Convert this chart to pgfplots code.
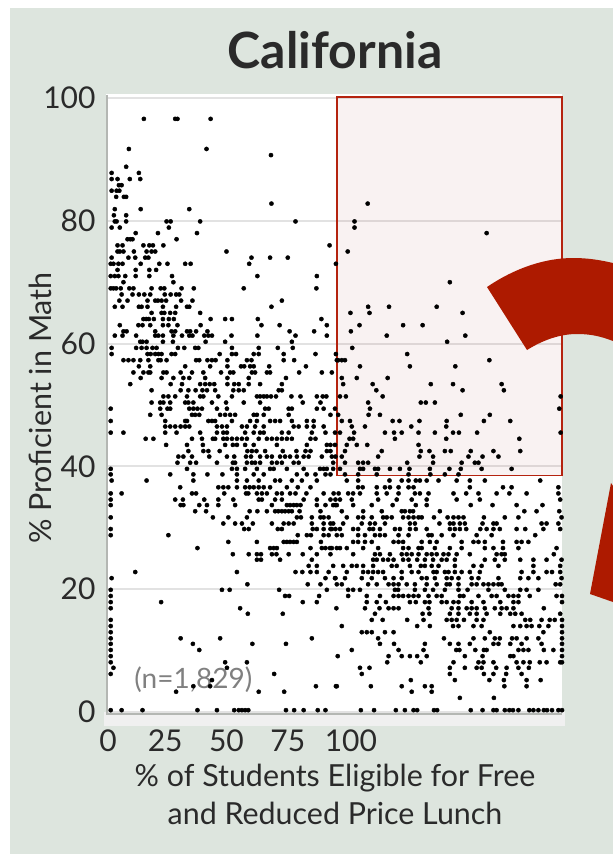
\documentclass[border=0pt]{standalone}
\usepackage{pgfplots}
\pgfplotsset{compat=1.18}
\usepackage{fontspec}
\setmainfont{Lato}
\definecolor{bgc}{HTML}{DDE5DE}
\definecolor{txt}{HTML}{2A2A2A}
\definecolor{arrowred}{HTML}{AD1A00}
\definecolor{boxred}{HTML}{B5230F}
\definecolor{gridc}{HTML}{E2E2E2}
\definecolor{axisc}{HTML}{B4B7B3}
\begin{document}
\begin{tikzpicture}[x=1pt,y=1pt]
\clip (0,0) rectangle (613,-854);
\fill[white] (0,0) rectangle (613,-854);
\fill[bgc] (10,-8) rectangle (613,-854);
\fill[white] (106,-94) rectangle (562,-712);
\fill[black!6] (104,-712) rectangle (565,-726);
\begin{axis}[
  at={(108pt,-712pt)},anchor=south west,
  scale only axis,width=454pt,height=614pt,
  xmin=0,xmax=100,ymin=0,ymax=100,
  clip=false,
  axis line style={draw=none},
  xtick={0,12.6,26.1,39.6,53.5},xticklabels={0,25,50,75,100},
  ytick={0,20,40,60,80,100},
  major tick length=0pt,
  ymajorgrids,grid style={gridc,line width=2pt},
  /pgf/number format/assume math mode=true,
  tick label style={font=\fontsize{30}{34}\selectfont,text=txt},
  xticklabel style={yshift=-14pt},
  yticklabel style={xshift=-9pt},
  xlabel={\% of Students Eligible for Free\\and Reduced Price Lunch},
  xlabel style={at={(axis description cs:0.5,-0.135)},anchor=center,align=center,
     font=\fontsize{30.4}{38}\selectfont,text=txt},
  ylabel={\% Proficient in Math},
  ylabel style={at={(axis description cs:-0.15,0.495)},anchor=center,rotate=0,
     font=\fontsize{30.5}{34}\selectfont,text=txt},
  title={\textbf{California}},
  title style={at={(axis description cs:0.5,1.068)},anchor=center,
     font=\fontsize{50}{56}\selectfont,text=txt},
]
\draw[axisc,line width=2.5pt] (axis cs:-0.25,100.5) -- (axis cs:-0.25,-0.3) -- (axis cs:100,-0.3);
\fill[red!60!black,opacity=0.05] (axis cs:50.44,38.5) rectangle (axis cs:100,100);
\draw[boxred,line width=1.6pt] (axis cs:50.44,38.5) rectangle (axis cs:100,100.2);
\node[text=black!50,font=\fontsize{28}{32}\selectfont] at (axis cs:18.8,5.2) {(n=1,829)};
\addplot[only marks,mark=*,mark size=2.1pt,black] table[row sep=\\]{x y\\
7.9 96.6\\14.8 96.6\\15.3 96.6\\22.6 96.6\\
4.6 91.7\\21.7 91.7\\35.9 90.7\\4.0 88.8\\0.8 87.8\\6.8 87.8\\
.8 86.8\\2.1 86.8\\4.8 86.8\\7.1 86.8\\2.4 85.8\\3.0 85.8\\.8 84.9\\1.9 84.9\\2.5 84.9\\
1.8 83.9\\3.5 83.9\\4.0 83.9\\36.0 82.8\\57.2 82.8\\1.5 81.9\\7.2 81.9\\17.9 81.9\\1.3 80.9\\4.0 80.9\\
1.5 79.9\\1.9 79.9\\4 79.9\\12.9 79.9\\13.8 79.9\\20.3 79.9\\41.3 79.9\\54.3 79.9\\
.8 78.9\\2.6 78.9\\13.4 78.9\\54.3 78.9\\6.1 78\\11 78\\19.6 78\\83.4 78\\
4.3 77\\4.9 77\\5.4 77\\15.1 77\\
2.1 76\\3.2 76\\7.8 76\\9.1 76\\9.9 76\\12.2 76\\48.8 76\\
2.1 75\\2.6 75\\3.4 75\\5.7 75\\8.5 75\\9.6 75\\10.4 75\\26.1 75\\52.8 75\\
.8 74\\4.5 74\\6 74\\8.2 74\\8.9 74\\31.6 74\\35.7 74\\39.6 74\\
.6 73\\1.2 73\\2.3 73\\3.2 73\\7.2 73\\11.3 73\\13.1 73\\17 73\\18.2 73\\31.1 73\\50.2 73\\
2.1 72\\6.1 72\\9.1 72\\10.6 72\\
.6 71\\1.5 71\\2.3 71\\3.8 71\\6.1 71\\9.1 71\\14.1 71\\32.9 71\\46 71\\
3.4 70\\14.4 70\\75.3 70\\
.6 69\\1.2 69\\1.8 69\\2.8 69\\4.7 69\\5.6 69\\9.6 69\\11.6 69\\12.4 69\\16.2 69\\18.9 69\\29.9 69\\45.9 69\\
3 68\\5.4 68\\6.8 68\\8 68\\9.3 68\\12.5 68\\13.8 68\\15 68\\15.7 68\\
2.5 67\\4.3 67\\8.7 67\\10.4 67\\11 67\\11.8 67\\12.8 67\\16.1 67\\18.6 67\\38.3 67\\
1.5 66\\3.2 66\\6.8 66\\7.4 66\\8.7 66\\12.1 66\\15 66\\17.4 66\\17.9 66\\36 66\\57.3 66\\61.9 66\\72.4 66\\
9.6 65\\11.8 65\\12.4 65\\13.7 65\\14.8 65\\20.3 65\\53.4 65\\57.6 65\\78.1 65\\
7.8 64\\8.4 64\\9 64\\10.1 64\\12.1 64\\13.4 64\\14.5 64\\22.6 64\\25.8 64\\27.3 64\\33 64\\47 64\\
2.6 63\\6.7 63\\7.6 63\\9.3 63\\12.1 63\\13.3 63\\15.3 63\\20.4 63\\33.8 63\\37.8 63\\48.2 63\\55.4 63\\65 63\\69.3 63\\
3.4 62\\4.1 62\\10.4 62\\14 62\\14.8 62\\17.4 62\\18.1 62\\19.4 62\\21.9 62\\40 62\\45.4 62\\53.5 62\\
1.5 61.3\\3.2 61.3\\6.2 61.3\\10.4 61.3\\11.1 61.3\\12.1 61.3\\14.4 61.3\\16.3 61.3\\17.9 61.3\\18.6 61.3\\21.2 61.3\\22.1 61.3\\22.9 61.3\\27.2 61.3\\32.9 61.3\\41.3 61.3\\48.2 61.3\\61.4 61.3\\78.7 61.3\\
7.1 60.3\\7.6 60.3\\8.5 60.3\\12.1 60.3\\14.3 60.3\\21.5 60.3\\25.8 60.3\\40.5 60.3\\74.7 60.3\\
.8 59.3\\6.2 59.3\\7.4 59.3\\8.5 59.3\\9.8 59.3\\10.7 59.3\\15.4 59.3\\16.8 59.3\\19.2 59.3\\19.9 59.3\\27.3 59.3\\33.2 59.3\\37.4 59.3\\40.7 59.3\\53.8 59.3\\
.8 58.3\\8.7 58.3\\9.4 58.3\\10.4 58.3\\11.1 58.3\\11.8 58.3\\14 58.3\\14.8 58.3\\24.6 58.3\\27.3 58.3\\28.2 58.3\\32.1 58.3\\33.2 58.3\\38.7 58.3\\45.7 58.3\\50.2 58.3\\65.9 58.3\\
3.4 57.3\\4.5 57.3\\5.6 57.3\\7.1 57.3\\8.9 57.3\\11.1 57.3\\11.6 57.3\\12.9 57.3\\19.4 57.3\\20.1 57.3\\21.9 57.3\\22.9 57.3\\23.7 57.3\\26.3 57.3\\30.6 57.3\\31.6 57.3\\38.7 57.3\\41 57.3\\50.4 57.3\\50.7 57.3\\51.5 57.3\\52.2 57.3\\84 57.3\\
6.8 56.3\\9.3 56.3\\17 56.3\\22.5 56.3\\26.3 56.3\\29.3 56.3\\30 56.3\\31.3 56.3\\32.1 56.3\\35.5 56.3\\43.6 56.3\\55.5 56.3\\66.5 56.3\\76.5 56.3\\
5.6 55.3\\7.8 55.3\\8.9 55.3\\9.3 55.3\\12.2 55.3\\12.9 55.3\\16 55.3\\18.5 55.3\\21 55.3\\24.9 55.3\\26.9 55.3\\27.6 55.3\\31.7 55.3\\32.4 55.3\\35 55.3\\35.7 55.3\\42.1 55.3\\47.1 55.3\\49.3 55.3\\
7.2 54.4\\11.8 54.4\\14.4 54.4\\16.6 54.4\\17.9 54.4\\21.4 54.4\\26.3 54.4\\31 54.4\\39.2 54.4\\51.5 54.4\\54.8 54.4\\61.6 54.4\\
4.9 53.4\\13.8 53.4\\16.3 53.4\\20.3 53.4\\21.4 53.4\\22.4 53.4\\23.4 53.4\\26.3 53.4\\27.8 53.4\\28.8 53.4\\31 53.4\\33.5 53.4\\38.3 53.4\\51.8 53.4\\58.3 53.4\\71.1 53.4\\76 53.4\\86.7 53.4\\
9.6 52.4\\16 52.4\\17.7 52.4\\19.3 52.4\\20.8 52.4\\21.8 52.4\\23.6 52.4\\27.6 52.4\\28.8 52.4\\29.9 52.4\\37.6 52.4\\38.3 52.4\\59.1 52.4\\78.1 52.4\\87.2 52.4\\
12.2 51.4\\13.3 51.4\\14.8 51.4\\17.4 51.4\\20.3 51.4\\21 51.4\\24.3 51.4\\27.3 51.4\\32.8 51.4\\33.5 51.4\\34.3 51.4\\35 51.4\\35.9 51.4\\37 51.4\\40.4 51.4\\42.4 51.4\\46 51.4\\47.3 51.4\\48.1 51.4\\51.1 51.4\\52.4 51.4\\60.5 51.4\\99.7 51.4\\
9.6 50.4\\11.5 50.4\\12.2 50.4\\13.7 50.4\\17 50.4\\17.7 50.4\\18.8 50.4\\22.9 50.4\\26 50.4\\29.9 50.4\\33.5 50.4\\42.9 50.4\\46.8 50.4\\57.3 50.4\\68.9 50.4\\70 50.4\\72 50.4\\
.6 49.4\\11.5 49.4\\13.1 49.4\\13.7 49.4\\17.9 49.4\\18.8 49.4\\19.7 49.4\\20.7 49.4\\24 49.4\\26.2 49.4\\34.6 49.4\\35.4 49.4\\39.8 49.4\\40.5 49.4\\46 49.4\\47.5 49.4\\50 49.4\\57.7 49.4\\99.4 49.4\\
9.3 48.4\\11.8 48.4\\18.5 48.4\\19.2 48.4\\20.1 48.4\\24.7 48.4\\25.8 48.4\\26.9 48.4\\28 48.4\\32.1 48.4\\32.8 48.4\\34.3 48.4\\39.8 48.4\\49 48.4\\50.7 48.4\\57.4 48.4\\59.9 48.4\\77.7 48.4\\84.1 48.4\\
.6 47.4\\12.6 47.4\\17 47.4\\17.4 47.4\\22.1 47.4\\22.9 47.4\\23.6 47.4\\27.3 47.4\\31.3 47.4\\32.8 47.4\\35.7 47.4\\36.8 47.4\\37.9 47.4\\40.5 47.4\\43.8 47.4\\45.3 47.4\\51.5 47.4\\53.3 47.4\\62.7 47.4\\64.2 47.4\\68.6 47.4\\74.6 47.4\\82.8 47.4\\88.6 47.4\\
12.6 46.5\\13.7 46.5\\14.8 46.5\\16 46.5\\17 46.5\\17.9 46.5\\24 46.5\\25.1 46.5\\26.2 46.5\\29.5 46.5\\30.6 46.5\\32.4 46.5\\34.3 46.5\\40.9 46.5\\42 46.5\\43.8 46.5\\45.3 46.5\\47.5 46.5\\53.7 46.5\\56.6 46.5\\66.8 46.5\\74.5 46.5\\
.6 45.5\\3.4 45.5\\12.6 45.5\\15.1 45.5\\20.3 45.5\\24 45.5\\25.4 45.5\\26.2 45.5\\30.2 45.5\\32.1 45.5\\33.5 45.5\\34.3 45.5\\38.3 45.5\\39.8 45.5\\44.9 45.5\\47.9 45.5\\50 45.5\\51.1 45.5\\54.2 45.5\\61 45.5\\63 45.5\\64.7 45.5\\68.4 45.5\\72 45.5\\76 45.5\\77.3 45.5\\81.3 45.5\\99.7 45.5\\
8.3 44.5\\10 44.5\\18.5 44.5\\20.7 44.5\\23.1 44.5\\23.6 44.5\\25.4 44.5\\26.2 44.5\\27.3 44.5\\28.4 44.5\\29.5 44.5\\30.6 44.5\\33.2 44.5\\35 44.5\\36.1 44.5\\37.2 44.5\\38.3 44.5\\39.4 44.5\\40.5 44.5\\44.6 44.5\\45.7 44.5\\53.2 44.5\\54 44.5\\63.2 44.5\\74.5 44.5\\90.6 44.5\\
12.8 43.5\\17.4 43.5\\20.9 43.5\\25.8 43.5\\27.5 43.5\\28.4 43.5\\30.2 43.5\\32.1 43.5\\37.2 43.5\\43.8 43.5\\48.2 43.5\\49 43.5\\50 43.5\\52.6 43.5\\54.8 43.5\\57.1 43.5\\68.4 43.5\\
17.7 42.5\\21 42.5\\22.1 42.5\\24.6 42.5\\30.7 42.5\\31.7 42.5\\32.7 42.5\\34.6 42.5\\38.5 42.5\\41.5 42.5\\43.5 42.5\\44.6 42.5\\48.2 42.5\\49 42.5\\52.2 42.5\\60.3 42.5\\68.9 42.5\\70.8 42.5\\74.2 42.5\\75.5 42.5\\79.9 42.5\\84.9 42.5\\90.8 42.5\\
15.5 41.6\\16.6 41.6\\18.5 41.6\\22.3 41.6\\26.2 41.6\\27.8 41.6\\30.4 41.6\\31.5 41.6\\33.5 41.6\\35 41.6\\36.1 41.6\\37.9 41.6\\39 41.6\\40.1 41.6\\41.6 41.6\\43.1 41.6\\44.2 41.6\\47.1 41.6\\50.1 41.6\\49.3 41.6\\51.5 41.6\\59.5 41.6\\68.6 41.6\\71.6 41.6\\79.4 41.6\\82.5 41.6\\86 41.6\\
15.3 40.6\\18.1 40.6\\19.4 40.6\\24 40.6\\27.5 40.6\\28 40.6\\30.6 40.6\\31.7 40.6\\32.4 40.6\\33.5 40.6\\36.1 40.6\\37.2 40.6\\38.3 40.6\\40.9 40.6\\42 40.6\\49.6 40.6\\52.2 40.6\\55.1 40.6\\56.2 40.6\\57.3 40.6\\65.9 40.6\\71.6 40.6\\77.9 40.6\\80.8 40.6\\81.6 40.6\\
.6 39.6\\17.4 39.6\\27.3 39.6\\28.4 39.6\\30.2 39.6\\32.8 39.6\\35.7 39.6\\36.5 39.6\\39.4 39.6\\43.1 39.6\\46.7 39.6\\47.5 39.6\\48.2 39.6\\49.6 39.6\\51.1 39.6\\55.5 39.6\\56.2 39.6\\58.8 39.6\\59.5 39.6\\62.1 39.6\\64.3 39.6\\66.4 39.6\\70.9 39.6\\75.2 39.6\\77.7 39.6\\82.3 39.6\\88.9 39.6\\
.6 38.7\\13.7 38.7\\18.8 38.7\\21.9 38.7\\25.2 38.7\\28.4 38.7\\32.1 38.7\\34.3 38.7\\41.6 38.7\\43.8 38.7\\45.7 38.7\\47.9 38.7\\49 38.7\\52.2 38.7\\55.1 38.7\\59.2 38.7\\66.2 38.7\\71 38.7\\74.2 38.7\\77.2 38.7\\
.8 37.7\\8.5 37.7\\18.8 37.7\\28.4 37.7\\30.6 37.7\\33.2 37.7\\36.8 37.7\\37.9 37.7\\40.5 37.7\\42.7 37.7\\46 37.7\\52.6 37.7\\55.1 37.7\\62 37.7\\64.7 37.7\\66.2 37.7\\67.8 37.7\\68.7 37.7\\70.2 37.7\\72.8 37.7\\76.8 37.7\\79.7 37.7\\83 37.7\\95.2 37.7\\
15.9 36.6\\24.3 36.6\\25.4 36.6\\26.5 36.6\\28.4 36.6\\30.2 36.6\\31.2 36.6\\32.1 36.6\\33.2 36.6\\34.3 36.6\\35.7 36.6\\39.4 36.6\\41.8 36.6\\44.6 36.6\\55.1 36.6\\56.1 36.6\\59.2 36.6\\61 36.6\\62.1 36.6\\64 36.6\\66.2 36.6\\67.3 36.6\\79.7 36.6\\87 36.6\\88.9 36.6\\99.2 36.6\\
.6 35.6\\3 35.6\\18.5 35.6\\19.4 35.6\\25.6 35.6\\30.4 35.6\\30.9 35.6\\32.8 35.6\\33.9 35.6\\35 35.6\\37.2 35.6\\38.3 35.6\\40.1 35.6\\41.3 35.6\\43.7 35.6\\47.5 35.6\\49.7 35.6\\50.8 35.6\\52.9 35.6\\54 35.6\\55.5 35.6\\59.2 35.6\\61.4 35.6\\64 35.6\\67.6 35.6\\68.7 35.6\\70.6 35.6\\76.1 35.6\\78.9 35.6\\81.6 35.6\\85.6 35.6\\88.4 35.6\\92.2 35.6\\99.2 35.6\\
.6 34.6\\14.8 34.6\\16.5 34.6\\21.2 34.6\\24.3 34.6\\27.6 34.6\\33.2 34.6\\33.9 34.6\\36.8 34.6\\38.3 34.6\\43.1 34.6\\46 34.6\\49 34.6\\50.1 34.6\\51.1 34.6\\53.7 34.6\\59.5 34.6\\63.6 34.6\\66.9 34.6\\70.2 34.6\\76.8 34.6\\81.9 34.6\\99.6 34.6\\
.6 33.7\\16 33.7\\16.6 33.7\\20.1 33.7\\21.8 33.7\\24.3 33.7\\28 33.7\\36.1 33.7\\39.4 33.7\\40.1 33.7\\40.9 33.7\\41.6 33.7\\42.4 33.7\\46 33.7\\47.9 33.7\\50.1 33.7\\49.6 33.7\\50.4 33.7\\54 33.7\\58.1 33.7\\62.7 33.7\\67.8 33.7\\70.2 33.7\\79.9 33.7\\84.7 33.7\\90 33.7\\95.7 33.7\\
19.2 32.7\\21.6 32.7\\31.2 32.7\\32.9 32.7\\35 32.7\\36.8 32.7\\37.5 32.7\\38.3 32.7\\39 32.7\\39.8 32.7\\40.5 32.7\\42.2 32.7\\46.8 32.7\\51.5 32.7\\56.2 32.7\\60.3 32.7\\64.7 32.7\\65.4 32.7\\66.5 32.7\\67.2 32.7\\73.1 32.7\\91.7 32.7\\94.4 32.7\\99.4 32.7\\
.6 31.7\\23.1 31.7\\26.5 31.7\\30.6 31.7\\41.6 31.7\\42.5 31.7\\44.9 31.7\\46.8 31.7\\47.5 31.7\\48.6 31.7\\52.6 31.7\\55.1 31.7\\56.2 31.7\\58.1 31.7\\60.6 31.7\\61.4 31.7\\62.5 31.7\\65 31.7\\66.2 31.7\\67.3 31.7\\68.4 31.7\\69.1 31.7\\71.8 31.7\\74.8 31.7\\76.1 31.7\\77.2 31.7\\78.3 31.7\\82.8 31.7\\87.4 31.7\\90.4 31.7\\99.9 31.7\\
25.4 30.7\\28 30.7\\29.5 30.7\\31.9 30.7\\36.1 30.7\\38.7 30.7\\39.8 30.7\\40.9 30.7\\44.9 30.7\\47.5 30.7\\49 30.7\\49.6 30.7\\51.8 30.7\\55.9 30.7\\57.7 30.7\\58.8 30.7\\61 30.7\\66.5 30.7\\67.6 30.7\\73 30.7\\75.3 30.7\\76.1 30.7\\77.5 30.7\\78.6 30.7\\82.5 30.7\\84.9 30.7\\85.6 30.7\\95.5 30.7\\96.6 30.7\\99.2 30.7\\
.6 29.8\\30 29.8\\31 29.8\\37.4 29.8\\38.3 29.8\\45.1 29.8\\46 29.8\\47.5 29.8\\49 29.8\\50.1 29.8\\49.3 29.8\\51.1 29.8\\54 29.8\\55.1 29.8\\57.6 29.8\\58.4 29.8\\59.9 29.8\\63.2 29.8\\64.3 29.8\\66.5 29.8\\67.8 29.8\\70.2 29.8\\75.3 29.8\\76.4 29.8\\77.5 29.8\\78.9 29.8\\82 29.8\\83.4 29.8\\84.9 29.8\\86.3 29.8\\90 29.8\\91.9 29.8\\95.9 29.8\\99.6 29.8\\
.6 28.8\\13.3 28.8\\41.8 28.8\\43.8 28.8\\44.7 28.8\\47.5 28.8\\48.6 28.8\\50.4 28.8\\51.5 28.8\\55.1 28.8\\56.6 28.8\\58.8 28.8\\59.9 28.8\\61 28.8\\64 28.8\\66.2 28.8\\70.6 28.8\\71.3 28.8\\73.5 28.8\\76.1 28.8\\81.2 28.8\\84.5 28.8\\94.1 28.8\\
26.5 27.7\\32.8 27.7\\38.7 27.7\\39.4 27.7\\40.1 27.7\\40.9 27.7\\41.6 27.7\\46.9 27.7\\54 27.7\\55.1 27.7\\56.6 27.7\\58.1 27.7\\62.9 27.7\\64 27.7\\65 27.7\\69.1 27.7\\70.9 27.7\\72.4 27.7\\77.9 27.7\\80.5 27.7\\81.6 27.7\\83 27.7\\87 27.7\\90 27.7\\91.1 27.7\\92.6 27.7\\
19.7 26.7\\35.7 26.7\\36.5 26.7\\37.2 26.7\\44.6 26.7\\47.1 26.7\\47.9 26.7\\49.3 26.7\\50.4 26.7\\48.9 26.7\\51.1 26.7\\52.6 26.7\\56.2 26.7\\59.5 26.7\\65 26.7\\66.2 26.7\\68.4 26.7\\69.1 26.7\\72 26.7\\75.3 26.7\\77.9 26.7\\83 26.7\\84.9 26.7\\87 26.7\\90.4 26.7\\98.8 26.7\\
27.5 25.7\\31 25.7\\32.8 25.7\\33.7 25.7\\36.1 25.7\\37.1 25.7\\39.8 25.7\\42.9 25.7\\46 25.7\\49 25.7\\54 25.7\\58.8 25.7\\59.9 25.7\\62.1 25.7\\64.7 25.7\\65.8 25.7\\66.9 25.7\\68.4 25.7\\70.2 25.7\\71.3 25.7\\72.4 25.7\\73.9 25.7\\75 25.7\\76.8 25.7\\79.7 25.7\\85.6 25.7\\86.7 25.7\\87.4 25.7\\98.2 25.7\\
32.8 24.8\\33.7 24.8\\37.9 24.8\\44.9 24.8\\58.4 24.8\\59.2 24.8\\60.6 24.8\\61.7 24.8\\62.9 24.8\\65 24.8\\66.2 24.8\\68.1 24.8\\69.8 24.8\\71.6 24.8\\73.5 24.8\\74.6 24.8\\76.4 24.8\\83 24.8\\85.2 24.8\\87.4 24.8\\90.8 24.8\\93.7 24.8\\96.6 24.8\\99.9 24.8\\
44.2 23.8\\46 23.8\\49.6 23.8\\51.8 23.8\\53.7 23.8\\54.8 23.8\\56.2 23.8\\58.4 23.8\\62.5 23.8\\63.6 23.8\\66.5 23.8\\68.9 23.8\\69.8 23.8\\71.3 23.8\\72.8 23.8\\76.4 23.8\\80.5 23.8\\82.3 23.8\\86 23.8\\93.7 23.8\\99.6 23.8\\
6 22.8\\28.4 22.8\\41.3 22.8\\42.8 22.8\\44.6 22.8\\46 22.8\\48.6 22.8\\52.6 22.8\\56.2 22.8\\57.3 22.8\\58.4 22.8\\59.5 22.8\\60.6 22.8\\64.7 22.8\\66.9 22.8\\68.4 22.8\\71.7 22.8\\72.4 22.8\\74.2 22.8\\75 22.8\\76.4 22.8\\77.9 22.8\\79.7 22.8\\81.9 22.8\\91.1 22.8\\93.7 22.8\\96.6 22.8\\97.8 22.8\\99.6 22.8\\
.8 21.8\\47.9 21.8\\50.1 21.8\\50 21.8\\52.2 21.8\\55.9 21.8\\58.1 21.8\\61 21.8\\62.9 21.8\\64.7 21.8\\69.1 21.8\\70.2 21.8\\72 21.8\\74.6 21.8\\75.7 21.8\\77.2 21.8\\80.1 21.8\\81.6 21.8\\86 21.8\\90.8 21.8\\92.6 21.8\\94.8 21.8\\99.9 21.8\\
30.7 20.8\\44 20.8\\46.8 20.8\\50.4 20.8\\51.5 20.8\\57.3 20.8\\59.2 20.8\\61.8 20.8\\62.9 20.8\\64 20.8\\65.8 20.8\\67.6 20.8\\70.2 20.8\\72.4 20.8\\74.6 20.8\\75.3 20.8\\77.2 20.8\\80.1 20.8\\81.2 20.8\\82.7 20.8\\83.8 20.8\\84.9 20.8\\86 20.8\\86.7 20.8\\98.6 20.8\\99.6 20.8\\
.6 19.9\\25.1 19.9\\26.8 19.9\\37.7 19.9\\48.2 19.9\\52.9 19.9\\54 19.9\\55.5 19.9\\63.2 19.9\\63.9 19.9\\67.6 19.9\\69.8 19.9\\71.6 19.9\\74.2 19.9\\77.2 19.9\\79.2 19.9\\83.8 19.9\\87.4 19.9\\90.8 19.9\\92.2 19.9\\94.8 19.9\\
.6 18.9\\39 18.9\\39.9 18.9\\46.5 18.9\\52.9 18.9\\57 18.9\\59.9 18.9\\62.9 18.9\\64 18.9\\65 18.9\\66.2 18.9\\67.3 18.9\\68.4 18.9\\70.6 18.9\\72.4 18.9\\73.5 18.9\\77.5 18.9\\78.3 18.9\\81.6 18.9\\84.5 18.9\\85.6 18.9\\88.2 18.9\\89.3 18.9\\90.4 18.9\\92.9 18.9\\98.8 18.9\\100 18.9\\
.6 17.9\\11.7 17.9\\42.9 17.9\\46 17.9\\57 17.9\\59.2 17.9\\61.2 17.9\\66.5 17.9\\67.8 17.9\\69.8 17.9\\70.8 17.9\\73.5 17.9\\74.6 17.9\\76.1 17.9\\77.2 17.9\\80.1 17.9\\82.7 17.9\\86.4 17.9\\89.3 17.9\\90.4 17.9\\100 17.9\\
.6 16.9\\29.1 16.9\\50.3 16.9\\56.6 16.9\\59.8 16.9\\61.8 16.9\\62.9 16.9\\64 16.9\\70.6 16.9\\75.7 16.9\\77.2 16.9\\79 16.9\\80.1 16.9\\81.2 16.9\\83 16.9\\85.2 16.9\\86.7 16.9\\87.8 16.9\\89.3 16.9\\96 16.9\\
30.8 16\\38.5 16\\58.8 16\\69.3 16\\70.8 16\\75.3 16\\77.2 16\\79.7 16\\81.2 16\\83.4 16\\86.4 16\\88.6 16\\89.7 16\\91.1 16\\99.6 16\\
.6 15\\58.1 15\\60.5 15\\65.9 15\\69.5 15\\74.6 15\\75.7 15\\76.8 15\\78.4 15\\81.2 15\\82.7 15\\91.9 15\\93 15\\95.5 15\\97.3 15\\98.4 15\\100 15\\
.6 14\\51.5 14\\68.1 14\\70.9 14\\76 14\\77.2 14\\80.5 14\\82.3 14\\89.3 14\\90.8 14\\92.2 14\\93.3 14\\95 14\\97 14\\100 14\\
.6 13\\55.9 13\\57 13\\58.1 13\\61 13\\62.9 13\\84.1 13\\95.9 13\\100 13\\
.6 12\\16 12\\24.7 12\\44.9 12\\59.5 12\\74 12\\80.5 12\\83 12\\85.2 12\\86.3 12\\89 12\\90 12\\92.2 12\\94.8 12\\100 12\\
.6 11.1\\18.7 11.1\\31.8 11.1\\39.2 11.1\\59.9 11.1\\63 11.1\\69.8 11.1\\75.3 11.1\\77.2 11.1\\79.7 11.1\\84.9 11.1\\86 11.1\\88.6 11.1\\91.1 11.1\\95.5 11.1\\100 11.1\\
.6 10.1\\20.1 10.1\\53.7 10.1\\64 10.1\\69.5 10.1\\76.7 10.1\\77.4 10.1\\80.9 10.1\\82.8 10.1\\83.4 10.1\\90.4 10.1\\91.5 10.1\\92.6 10.1\\96 10.1\\98.1 10.1\\100 10.1\\
.6 9.1\\50.6 9.1\\61.8 9.1\\64.7 9.1\\66.5 9.1\\68.1 9.1\\70.2 9.1\\78.6 9.1\\82.5 9.1\\88.6 9.1\\89.3 9.1\\100 9.1\\
.6 8.1\\25.8 8.1\\30.6 8.1\\61.5 8.1\\68.9 8.1\\76.1 8.1\\81.6 8.1\\82.7 8.1\\84.9 8.1\\90 8.1\\91.5 8.1\\92.9 8.1\\95.1 8.1\\96.6 8.1\\99.6 8.1\\100 8.1\\
1.2 7.2\\26.2 7.2\\55.5 7.2\\57.6 7.2\\75.3 7.2\\78.6 7.2\\81.2 7.2\\82.3 7.2\\85.5 7.2\\87.8 7.2\\90.4 7.2\\92.7 7.2\\
.6 6.2\\36.6 6.2\\55.9 6.2\\75.3 6.2\\82.8 6.2\\84.9 6.2\\87.7 6.2\\91.1 6.2\\
22.9 5.2\\66.7 5.2\\76.4 5.2\\84 5.2\\87.2 5.2\\92.2 5.2\\95.3 5.2\\
18.8 4.2\\22.5 4.2\\45.8 4.2\\50.4 4.2\\50.2 4.2\\57.9 4.2\\64.7 4.2\\69.8 4.2\\71.3 4.2\\87.3 4.2\\92.2 4.2\\
15 3.3\\33.2 3.3\\38.8 3.3\\66.9 3.3\\71.3 3.3\\77.5 2.3\\85 2.3\\
.6 .3\\3 .3\\7.6 .3\\19.7 .3\\24 .3\\27.8 .3\\28.8 .3\\29.5 .3\\30.2 .3\\30.9 .3\\39.2 .3\\41 .3\\43.1 .3\\46.2 .3\\47.9 .3\\55.7 .3\\58.6 .3\\63.4 .3\\65.4 .3\\67.3 .3\\68.1 .3\\71.8 .3\\72.5 .3\\79.9 .3\\82.5 .3\\84.9 .3\\85.6 .3\\87.4 .3\\88.4 .3\\89.2 .3\\90.4 .3\\92.8 .3\\93.7 .3\\94.8 .3\\96 .3\\96.7 .3\\97.8 .3\\99.2 .3\\100 .3\\
};
\end{axis}
\fill[arrowred] (487,-287) .. controls (515,-268) and (545,-258) .. (573,-258) .. controls (588,-258) and (600,-260) .. (613,-263) -- (613,-341) .. controls (600,-336) and (590,-334) .. (577,-334) .. controls (560,-334) and (543,-340) .. (527,-350) -- cycle;
\fill[arrowred] (611,-483) -- (613,-486) -- (613,-602) -- (590,-594) -- cycle;
\end{tikzpicture}
\end{document}
